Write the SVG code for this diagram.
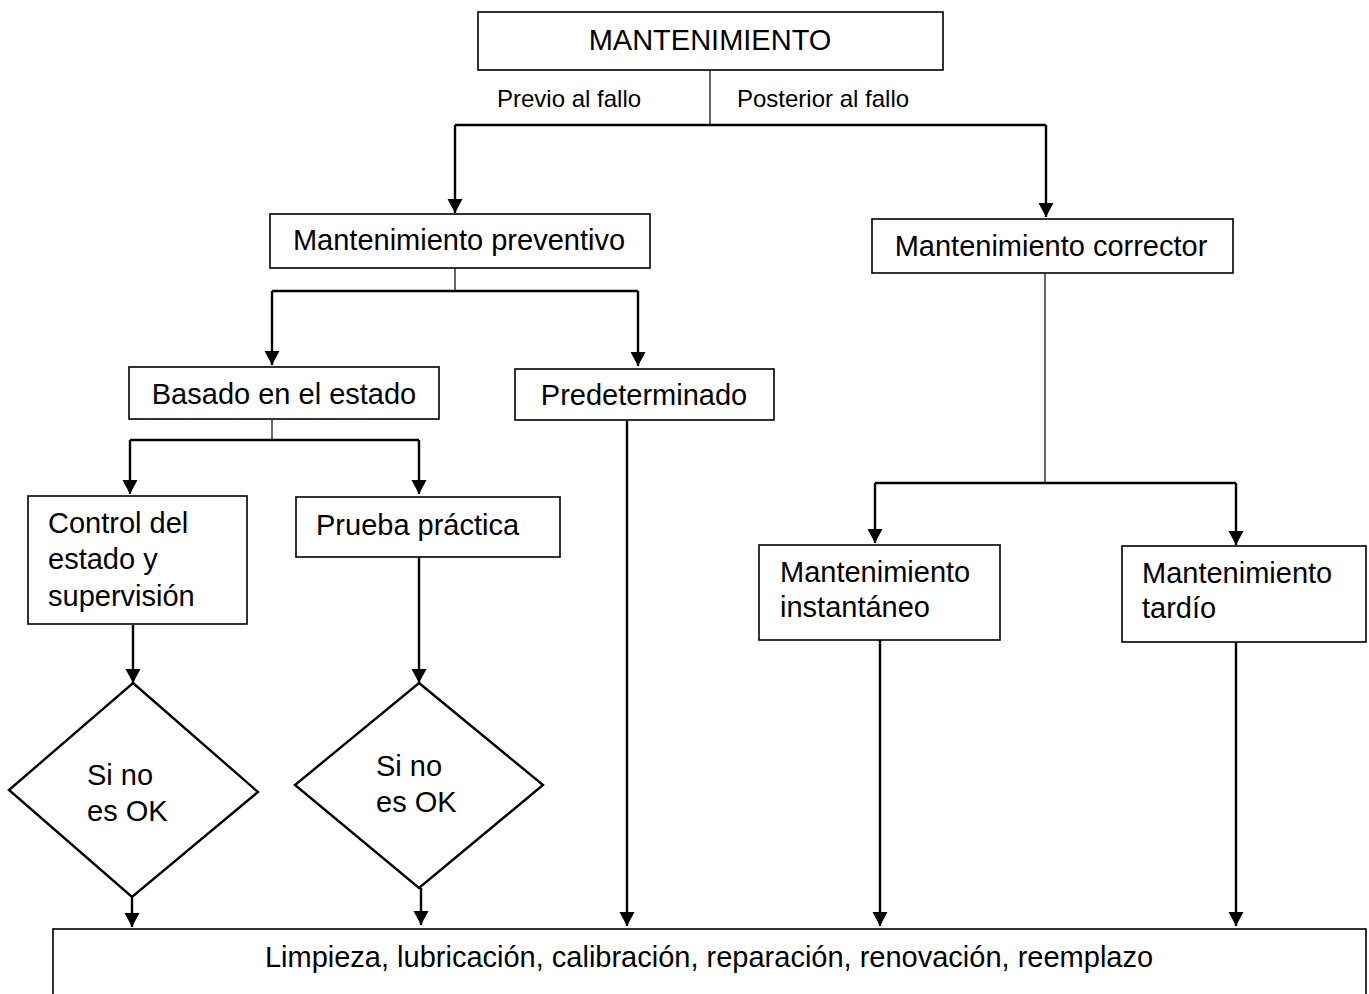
<svg xmlns="http://www.w3.org/2000/svg" width="1369" height="994" viewBox="0 0 1369 994">
<style>
.box{fill:#fff;stroke:#000;stroke-width:1.6}
.t{font-family:"Liberation Sans",Arial,sans-serif;font-size:29px;fill:#000}
.s{font-family:"Liberation Sans",Arial,sans-serif;font-size:24px;fill:#000}
.c{text-anchor:middle}
.a{fill:none;stroke:#000;stroke-width:2.4}
.l{fill:none;stroke:#000;stroke-width:1.2}
.d{fill:#fff;stroke:#000;stroke-width:2.4}
</style>
<defs>
<marker id="ah" markerUnits="userSpaceOnUse" markerWidth="16" markerHeight="16" viewBox="0 0 16 16" refX="14" refY="8" orient="auto">
<path d="M0,0.5 L14,8 L0,15.5 Z" fill="#000"/>
</marker>
</defs>
<rect width="1369" height="994" fill="#fff"/>
<g id="connectors">
<path class="l" d="M710,70 V125"/>
<path class="a" d="M455,125 H1046"/>
<path class="a" d="M455,125 V213" marker-end="url(#ah)"/>
<path class="a" d="M1046,125 V217" marker-end="url(#ah)"/>
<path class="l" d="M455,268 V291"/>
<path class="a" d="M272,291 H638"/>
<path class="a" d="M272,291 V365" marker-end="url(#ah)"/>
<path class="a" d="M638,291 V366" marker-end="url(#ah)"/>
<path class="l" d="M272,420 V440"/>
<path class="a" d="M130,440 H419"/>
<path class="a" d="M130,440 V494" marker-end="url(#ah)"/>
<path class="a" d="M419,440 V494" marker-end="url(#ah)"/>
<path class="a" d="M133,625 V683" marker-end="url(#ah)"/>
<path class="a" d="M419,557 V683" marker-end="url(#ah)"/>
<path class="a" d="M132,897 V927" marker-end="url(#ah)"/>
<path class="a" d="M421,888 V925" marker-end="url(#ah)"/>
<path class="a" d="M627,421 V926" marker-end="url(#ah)"/>
<path class="l" d="M1045,274 V483"/>
<path class="a" d="M875,483 H1236"/>
<path class="a" d="M875,483 V543" marker-end="url(#ah)"/>
<path class="a" d="M1236,483 V545" marker-end="url(#ah)"/>
<path class="a" d="M880,640 V926" marker-end="url(#ah)"/>
<path class="a" d="M1236,642 V926" marker-end="url(#ah)"/>
</g>
<g id="n-mantenimiento">
<rect class="box" x="478" y="12" width="465" height="58"/>
<text class="t c" x="710" y="50">MANTENIMIENTO</text>
</g>
<g id="l-previo"><text class="s" x="497" y="107">Previo al fallo</text></g>
<g id="l-posterior"><text class="s" x="737" y="107">Posterior al fallo</text></g>
<g id="n-preventivo">
<rect class="box" x="270" y="214" width="380" height="54"/>
<text class="t c" x="459" y="250">Mantenimiento preventivo</text>
</g>
<g id="n-corrector">
<rect class="box" x="872" y="219" width="361" height="54"/>
<text class="t c" x="1051" y="256">Mantenimiento corrector</text>
</g>
<g id="n-basado">
<rect class="box" x="129" y="367" width="310" height="52"/>
<text class="t c" x="284" y="404">Basado en el estado</text>
</g>
<g id="n-predeterminado">
<rect class="box" x="515" y="369" width="259" height="51"/>
<text class="t c" x="644" y="405">Predeterminado</text>
</g>
<g id="n-control">
<rect class="box" x="28" y="496" width="219" height="128"/>
<text class="t" x="48" y="533">Control del</text>
<text class="t" x="48" y="569">estado y</text>
<text class="t" x="48" y="606">supervisión</text>
</g>
<g id="n-prueba">
<rect class="box" x="296" y="497" width="264" height="60"/>
<text class="t" x="316" y="535">Prueba práctica</text>
</g>
<g id="n-instantaneo">
<rect class="box" x="759" y="545" width="241" height="95"/>
<text class="t" x="780" y="582">Mantenimiento</text>
<text class="t" x="780" y="617">instantáneo</text>
</g>
<g id="n-tardio">
<rect class="box" x="1122" y="546" width="244" height="96"/>
<text class="t" x="1142" y="583">Mantenimiento</text>
<text class="t" x="1142" y="618">tardío</text>
</g>
<g id="n-decision1">
<polygon class="d" points="133,683 258,792 132,897 9,790"/>
<text class="t" x="87" y="785">Si no</text>
<text class="t" x="87" y="821">es OK</text>
</g>
<g id="n-decision2">
<polygon class="d" points="419,683 543,785 419,888 295,785"/>
<text class="t" x="376" y="776">Si no</text>
<text class="t" x="376" y="812">es OK</text>
</g>
<g id="n-acciones">
<rect class="box" x="53" y="929" width="1313" height="80"/>
<text class="t c" x="709" y="967">Limpieza, lubricación, calibración, reparación, renovación, reemplazo</text>
</g>
</svg>
